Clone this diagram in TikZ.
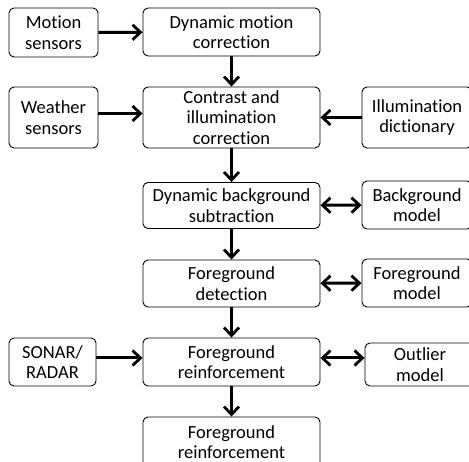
\documentclass[tikz,border=0pt]{standalone}
\usepackage{fontspec}
\setmainfont[Ligatures={NoCommon}]{Carlito}
\usetikzlibrary{arrows.meta}

\tikzset{
	blk/.style={draw=black, line width=0.9pt, rounded corners=5pt, align=center,
		inner sep=0pt, font=\fontsize{18.5}{20.5}\selectfont},
	flow/.style={line width=3pt, -{Straight Barb[length=8pt,width=15pt,line width=2.8pt]}},
	both/.style={line width=3pt, {Straight Barb[length=8pt,width=15pt,line width=2.8pt]}-{Straight Barb[length=8pt,width=15pt,line width=2.8pt]}}
}

\begin{document}
\begin{tikzpicture}[x=1pt,y=-1pt]
	
	\useasboundingbox (0,0) rectangle (469,462);
	\clip (0,0) rectangle (469,462);
	
	\node[blk, minimum width=89, minimum height=49] (ms)  at (53.5, 32.5)  {Motion\\sensors};
	\node[blk, minimum width=177, minimum height=48] (dmc) at (231.5, 32)  {Dynamic motion\\correction};
	\node[blk, minimum width=89, minimum height=61] (ws)  at (53.5, 117.5) {Weather\\sensors};
	\node[blk, minimum width=177, minimum height=61] (cic) at (231.5, 117.5) {Contrast and\\illumination\\correction};
	\node[blk, minimum width=110, minimum height=61] (id)  at (417, 117.5) {Illumination\\dictionary};
	\node[blk, minimum width=177, minimum height=46] (dbs) at (231.5, 205.5) {Dynamic background\\subtraction};
	\node[blk, minimum width=110, minimum height=48] (bm)  at (417, 205)   {Background\\model};
	\node[blk, minimum width=177, minimum height=47] (fd)  at (231.5, 283.5) {Foreground\\detection};
	\node[blk, minimum width=110, minimum height=48] (fm)  at (417, 283)   {Foreground\\model};
	\node[blk, minimum width=87, minimum height=48] (sr)  at (52.5, 362)   {SONAR/\\RADAR};
	\node[blk, minimum width=177, minimum height=48] (fr)  at (231.5, 362)  {Foreground\\reinforcement};
	\node[blk, minimum width=110, minimum height=43] (om)  at (420, 364.5) {Outlier\\model};
	\node[blk, minimum width=177, minimum height=50] (out) at (231.5, 442) {Foreground\\reinforcement};
	
	\draw[flow] (ms) -- (dmc);
	\draw[flow] (dmc) -- (cic);
	\draw[flow] ([yshift=4pt]ws.east) -- ([yshift=4pt]cic.west);
	\draw[flow] (id) -- (cic);
	\draw[flow] (cic) -- (dbs);
	\draw[both] (dbs) -- (bm);
	\draw[flow] (dbs) -- (fd);
	\draw[both] (fd) -- (fm);
	\draw[flow] (fd) -- (fr);
	\draw[flow] ([yshift=4pt]sr.east) -- ([yshift=4pt]fr.west);
	\draw[both] ([yshift=4pt]fr.east) -- ([yshift=4pt]fr.east -| om.west);
	\draw[flow] (fr) -- (out);
	
\end{tikzpicture}
\end{document}
